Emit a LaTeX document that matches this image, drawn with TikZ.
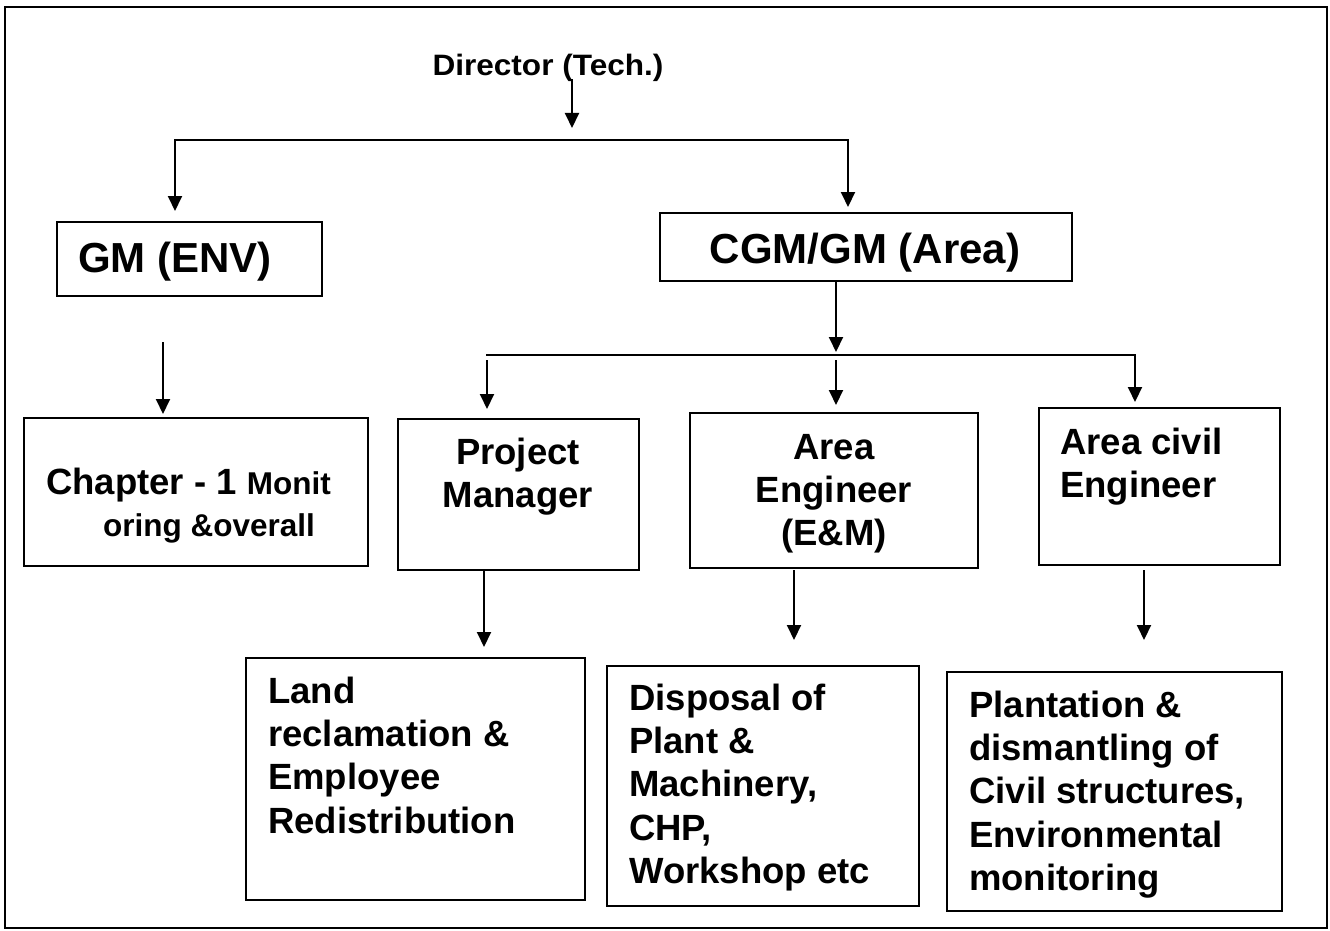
\documentclass[tikz,border=0pt]{standalone}
\usepackage{fontspec}
\setmainfont{Liberation Sans}
\usepackage{graphicx}
\usetikzlibrary{arrows.meta}
\newcommand\firstln{\rule{0pt}{30pt}}
\begin{document}
\begin{tikzpicture}[x=1pt,y=-1pt,
  box/.style={draw, line width=2pt, inner sep=0pt, rectangle},
  ln/.style={line width=2pt, line cap=rect},
  arr/.style={line width=2pt, line cap=rect, -{Triangle[length=15pt,width=14pt]}},
  tx/.style={inner sep=0pt, font=\bfseries\fontsize{36.5}{43.3}\selectfont},
  big/.style={inner sep=0pt, font=\bfseries\fontsize{42}{48}\selectfont},
  ]
\useasboundingbox (0,0) rectangle (1330,931);
\draw[line width=2.5pt] (5,7) rectangle (1327,928);

% boxes
\node[box, minimum width=265pt, minimum height=74pt] (gm) at (189.5,259) {};
\node[box, minimum width=412pt, minimum height=68pt] (cgm) at (866,247) {};
\node[box, minimum width=344pt, minimum height=148pt] (ch) at (196,492) {};
\node[box, minimum width=241pt, minimum height=151pt] (pm) at (518.5,494.5) {};
\node[box, minimum width=288pt, minimum height=155pt] (ae) at (834,490.5) {};
\node[box, minimum width=241pt, minimum height=157pt] (ace) at (1159.5,486.5) {};
\node[box, minimum width=339pt, minimum height=242pt] (land) at (415.5,779) {};
\node[box, minimum width=312pt, minimum height=240pt] (disp) at (763,786) {};
\node[box, minimum width=335pt, minimum height=239pt] (plant) at (1114.5,791.5) {};

% texts
\node[inner sep=0pt, anchor=base, font=\bfseries\fontsize{29.5}{32}\selectfont] (dir) at (548,76) {\scalebox{1.07}[1]{Director (Tech.)}};
\node[big, anchor=base west] (gmt) at (78,272) {GM (ENV)};
\node[big, anchor=base] (cgmt) at (865,263) {CGM/GM (Area)};
\node[inner sep=0pt, anchor=north west, align=left, font=\bfseries\fontsize{36.5}{42}\selectfont] (cht) at (46,464)
  {\firstln Chapter - 1 {\fontsize{31.5}{42}\selectfont Monit}\\ \hspace*{57pt}{\fontsize{31.5}{42}\selectfont oring \&overall}};
\node[tx, anchor=north, align=center] (pmt) at (518,434) {\firstln Project\\Manager};
\node[tx, anchor=north, align=center] (aet) at (834,429) {\firstln Area\\Engineer\\(E\&M)};
\node[tx, anchor=north west, align=left] (acet) at (1060,424) {\firstln Area civil\\Engineer};
\node[tx, anchor=north west, align=left] (landt) at (268,673) {\firstln Land\\reclamation \&\\Employee\\Redistribution};
\node[tx, anchor=north west, align=left] (dispt) at (629,680) {\firstln Disposal of\\Plant \&\\Machinery,\\CHP,\\Workshop etc};
\node[tx, anchor=north west, align=left] (plt) at (969,687) {\firstln Plantation \&\\dismantling of\\Civil structures,\\Environmental\\monitoring};

% connector points
\coordinate (d0) at (572,80);
\coordinate (tL) at (175,140);
\coordinate (tR) at (848,140);
\coordinate (bL) at (487,355);
\coordinate (bM) at (836,355);
\coordinate (bR) at (1135,355);
\coordinate (g0) at (163,343);
\coordinate (p0) at (484,600);
\coordinate (e0) at (794,600);
\coordinate (c0) at (1144,600);

% connectors
\draw[arr, shorten >=12pt] (d0) -- (d0 |- tL);
\draw[ln] (tL) -- (tR);
\draw[arr, shorten >=10pt] (tL) -- (tL |- gm.north);
\draw[arr, shorten >=5pt] (tR) -- (tR |- cgm.north);
\draw[arr, shorten >=3pt] (bM |- cgm.south) -- (bM);
\draw[ln] (bL) -- (bR);
\draw[arr, shorten <=6pt, shorten >=9pt] (bL) -- (bL |- pm.north);
\draw[arr, shorten <=6pt, shorten >=7pt] (bM) -- (bM |- ae.north);
\draw[arr, shorten >=5pt] (bR) -- (bR |- ace.north);
\draw[arr, shorten >=3pt] (g0) -- (g0 |- ch.north);
\draw[arr, shorten >=10pt] (pm.south -| p0) -- (p0 |- land.north);
\draw[arr, shorten <=2pt, shorten >=25pt] (ae.south -| e0) -- (e0 |- disp.north);
\draw[arr, shorten <=5pt, shorten >=31pt] (ace.south -| c0) -- (c0 |- plant.north);
\end{tikzpicture}
\end{document}
